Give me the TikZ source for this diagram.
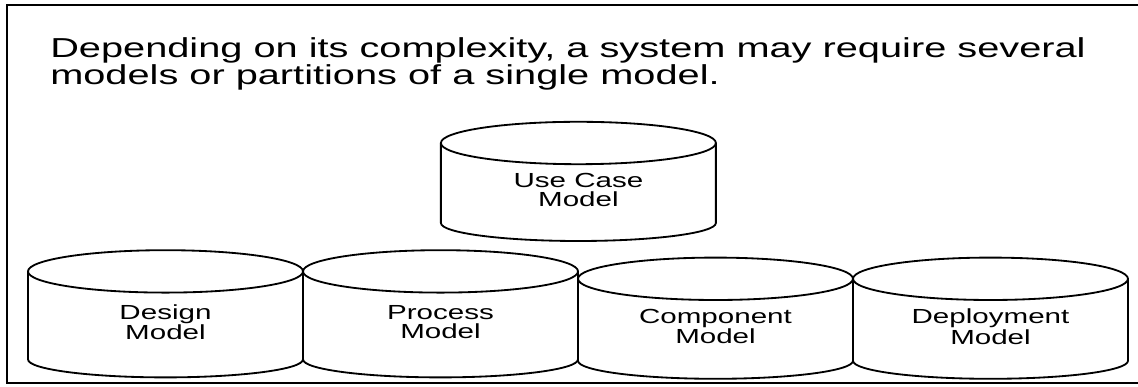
\documentclass[tikz,border=0pt]{standalone}
\usepackage{fontspec}
\setmainfont[FakeStretch=1.45]{Liberation Sans}
\usetikzlibrary{positioning}
\tikzstyle{model} = [rectangle, minimum width=6.875cm, minimum height=2.2cm, inner sep=0pt, outer sep=0pt, align=center, font=\fontsize{14.5}{13.5}\selectfont]
\tikzstyle{outline} = [line width=1.3pt, draw=black]
\tikzstyle{frame} = [line width=1.6pt]

\begin{document}
\begin{tikzpicture}
    \useasboundingbox (0,0) rectangle (28.45,9.675);
    % Frame
    \draw [frame] (28.45,9.55) -- (0.175,9.55) -- (0.175,0.1) -- (28.45,0.1);

    % Caption
    \node (caption) [anchor=north west, align=left, inner sep=0pt, font=\fontsize{19.5}{19.8}\selectfont] at (1.25,8.75) {Depending on its complexity, a system may require several\\models or partitions of a single model.};

    % Bottom row
    \node (design) [model] at (4.1375,1.62) {Design\\Model};
    \node (process) [model, right=0pt of design] {Process\\Model};
    \node (component) [model, minimum height=2.05cm, right=0pt of process, yshift=-0.11cm] {Component\\Model};
    \node (deployment) [model, minimum height=2.05cm, right=0pt of component] {Deployment\\Model};

    % Top
    \node (use_case) [model, minimum height=2.0cm] at (14.46,4.93) {Use Case\\Model};

    % Cylinder outlines
    \foreach \n in {design, process, component, deployment, use_case} {
        \draw [outline] ([yshift=0.17cm]\n.north west) -- ([yshift=0.17cm]\n.south west)
            arc [start angle=180, end angle=360, x radius=3.4375cm, y radius=0.45cm]
            -- ([yshift=0.17cm]\n.north east);
        \draw [outline] ([yshift=0.17cm]\n.north) ellipse [x radius=3.4375cm, y radius=0.53cm];
    }
\end{tikzpicture}
\end{document}
